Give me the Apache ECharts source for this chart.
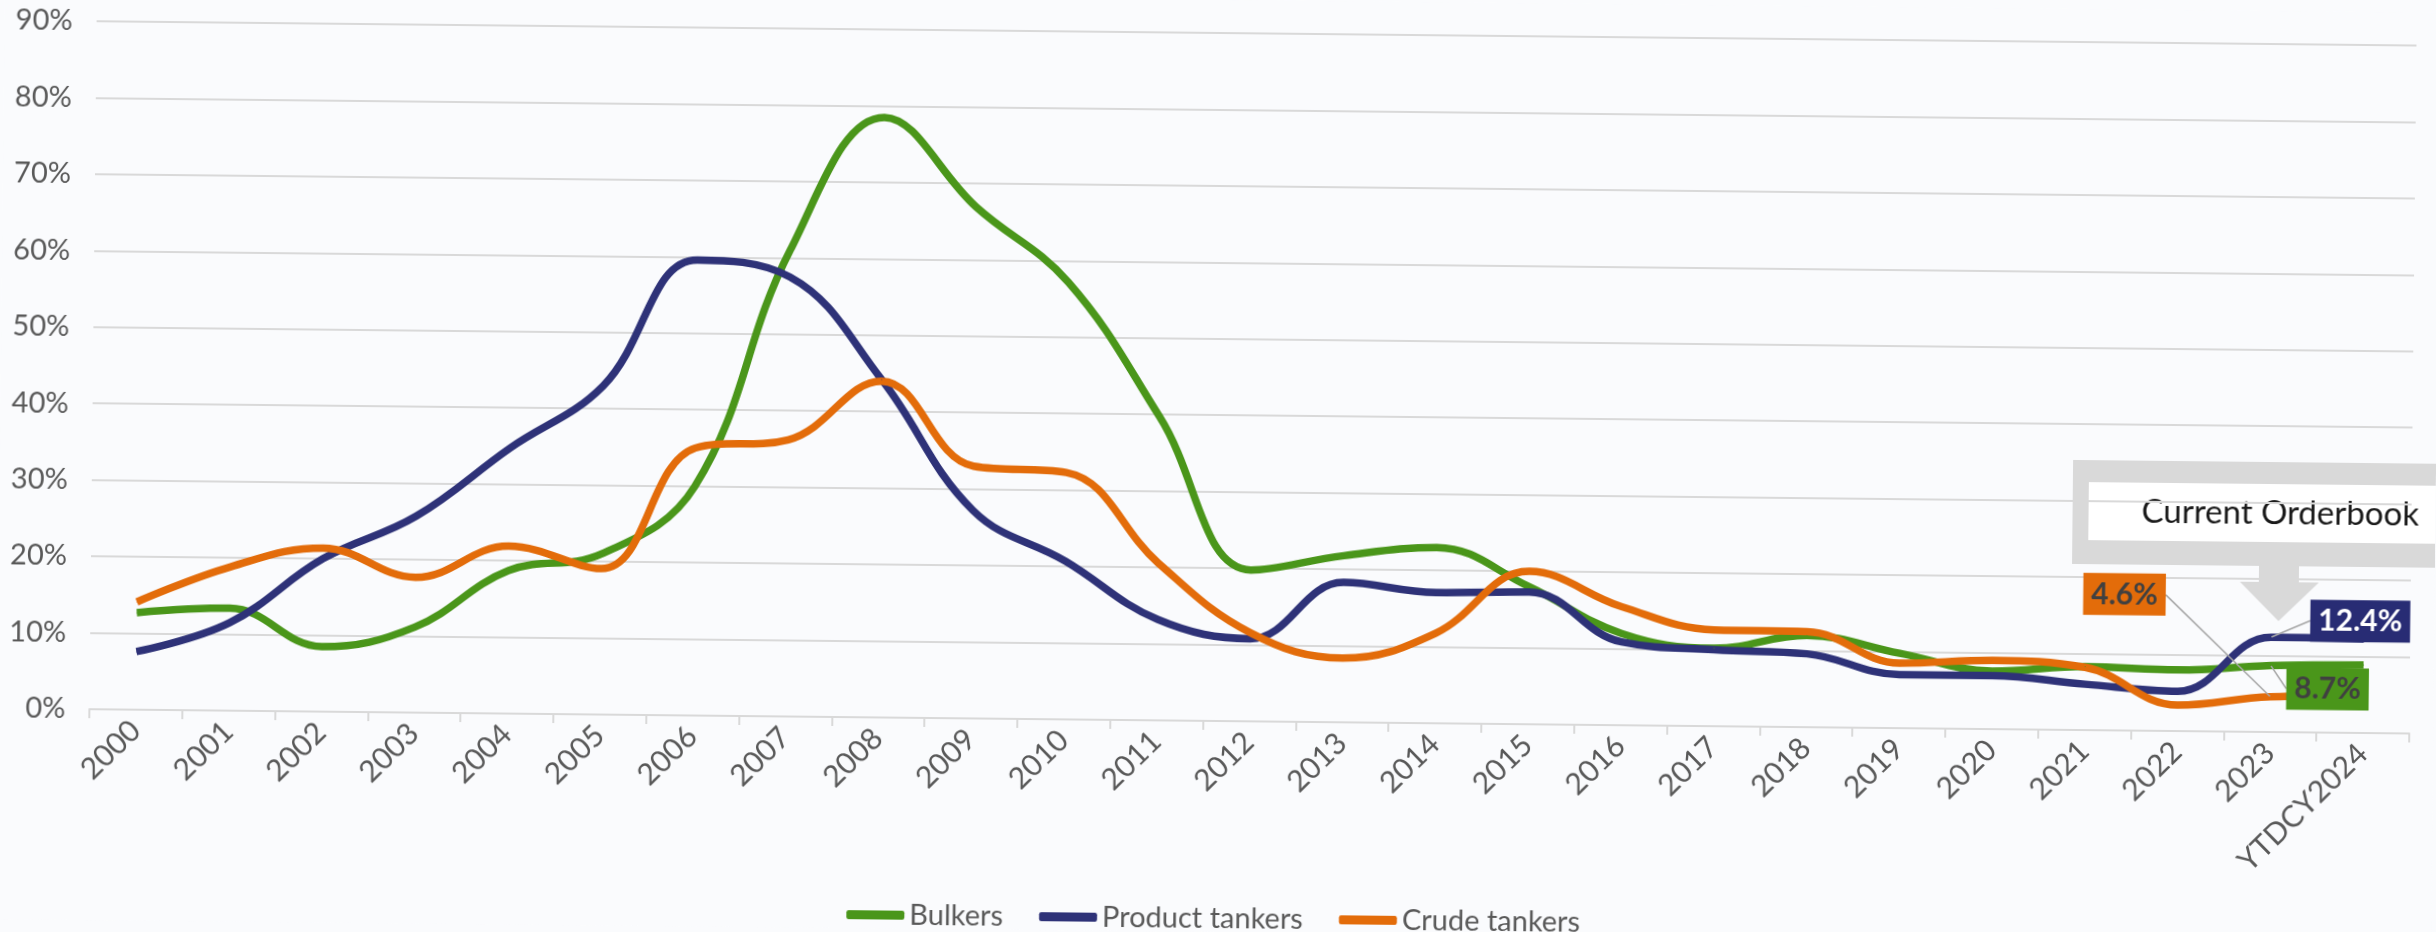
<!DOCTYPE html>
<html>
<head>
<meta charset="utf-8">
<title>Orderbook to fleet</title>
<script src="https://cdn.jsdelivr.net/npm/echarts@6/dist/echarts.min.js"></script>
<style>
  html, body { margin: 0; padding: 0; background: #FAFBFD; overflow: hidden; }
  /* the source picture is a slightly tilted screenshot */
  #chart { width: 2436px; height: 932px; transform: rotate(0.6deg); }
</style>
</head>
<body>
<div id="chart"></div>
<script>
// categories
const years = ['2000', '2001', '2002', '2003', '2004', '2005', '2006', '2007', '2008', '2009',
  '2010', '2011', '2012', '2013', '2014', '2015', '2016', '2017', '2018', '2019',
  '2020', '2021', '2022', '2023', 'YTDCY2024'];

// orderbook as % of fleet
const bulkers = [12.7, 13.4, 8.5, 11.2, 18.7, 21.0, 30.0, 61.0, 78.5, 66.9,
  57.2, 39.7, 19.8, 21.8, 23.0, 18.0, 12.0, 10.2, 12.0, 9.8,
  7.6, 8.3, 8.0, 8.7, 8.9];
const productTankers = [7.6, 11.5, 20.0, 25.7, 34.7, 43.0, 59.6, 57.5, 44.2, 27.2,
  20.7, 13.2, 10.8, 18.3, 17.1, 17.3, 10.9, 10.0, 9.6, 7.0,
  7.0, 6.0, 5.2, 12.4, 12.3];
const crudeTankers = [14.1, 18.8, 21.4, 17.7, 21.9, 19.1, 35.0, 36.2, 44.0, 33.0,
  32.3, 20.6, 11.6, 8.4, 11.8, 20.0, 15.5, 12.6, 12.5, 8.5,
  9.0, 8.2, 3.4, 4.6, 4.8];

// y axis
const yMin = 0, yMax = 90, yStep = 10;

// which point gets the value tag (2023)
const tagIndex = 23;

const FONT = 'Lato';

function tagged(values, bg, fg) {
  return values.map(function (v, i) {
    if (i !== tagIndex) return v;
    return {
      value: v,
      label: {
        show: true,
        position: 'inside',
        formatter: '{c}%',
        backgroundColor: bg,
        color: fg,
        fontFamily: FONT,
        fontWeight: 'bold',
        fontSize: 30,
        padding: [7, 8, 5, 8]
      }
    };
  });
}

function lineSeries(name, values, color, tagBg, tagFg, dx, dy) {
  return {
    name: name,
    type: 'line',
    smooth: 0.4,
    data: tagged(values, tagBg, tagFg),
    showSymbol: true,
    symbol: 'circle',
    symbolSize: 1,
    itemStyle: { color: color },
    lineStyle: { color: color, width: 7.5 },
    label: { show: false },
    labelLayout: { dx: dx, dy: dy },
    labelLine: { show: true, lineStyle: { color: '#A6A6A6', width: 1.5 } },
    emphasis: { disabled: true }
  };
}

const chart = echarts.init(document.getElementById('chart'));

const option = {
  backgroundColor: '#FAFBFD',
  animation: false,
  grid: { left: 92, right: 24, top: 33, bottom: 211 },
  legend: {
    top: 899,
    left: 'center',
    icon: 'roundRect',
    itemWidth: 58,
    itemHeight: 9,
    itemGap: 36,
    textStyle: { fontFamily: FONT, fontSize: 29, color: '#595959' },
    data: ['Bulkers', 'Product tankers', 'Crude tankers']
  },
  xAxis: {
    type: 'category',
    data: years,
    boundaryGap: true,
    axisLine: { show: true, lineStyle: { color: '#D9D9D9', width: 2 } },
    axisTick: { show: true, length: 9, lineStyle: { color: '#D9D9D9', width: 2 } },
    axisLabel: {
      rotate: 45,
      margin: 16,
      interval: 0,
      fontFamily: FONT,
      fontSize: 30,
      color: '#595959'
    }
  },
  yAxis: {
    type: 'value',
    min: yMin,
    max: yMax,
    interval: yStep,
    axisLine: { show: false },
    axisTick: { show: false },
    axisLabel: {
      formatter: '{value}%',
      margin: 24,
      fontFamily: FONT,
      fontSize: 29,
      color: '#595959'
    },
    splitLine: { lineStyle: { color: '#D9D9D9', width: 2 } }
  },
  series: [
    lineSeries('Bulkers', bulkers, '#4A961A', '#4A961A', '#404040', 57, 23),
    lineSeries('Product tankers', productTankers, '#2E3278', '#282C74', '#FFFFFF', 89, -17),
    lineSeries('Crude tankers', crudeTankers, '#E36C0A', '#E36C0A', '#404040', -147, -101)
  ],
  graphic: [
    {
      type: 'group',
      z: 100,
      children: [
        { type: 'rect', shape: { x: 2073, y: 451, width: 420, height: 104 }, style: { fill: '#D9D9D9' } },
        { type: 'rect', shape: { x: 2089, y: 473, width: 420, height: 58 }, style: { fill: '#FFFFFF' } },
        {
          type: 'polygon',
          shape: { points: [[2260, 554], [2300, 554], [2300, 571], [2320, 571], [2280, 610], [2241, 571], [2260, 571]] },
          style: { fill: '#D9D9D9' }
        },
        {
          type: 'text',
          x: 2142,
          y: 502,
          style: {
            text: 'Current Orderbook',
            fontFamily: FONT,
            fontSize: 33,
            fill: '#1A1A1A',
            verticalAlign: 'middle'
          }
        }
      ]
    }
  ]
};

chart.setOption(option);
</script>
</body>
</html>
